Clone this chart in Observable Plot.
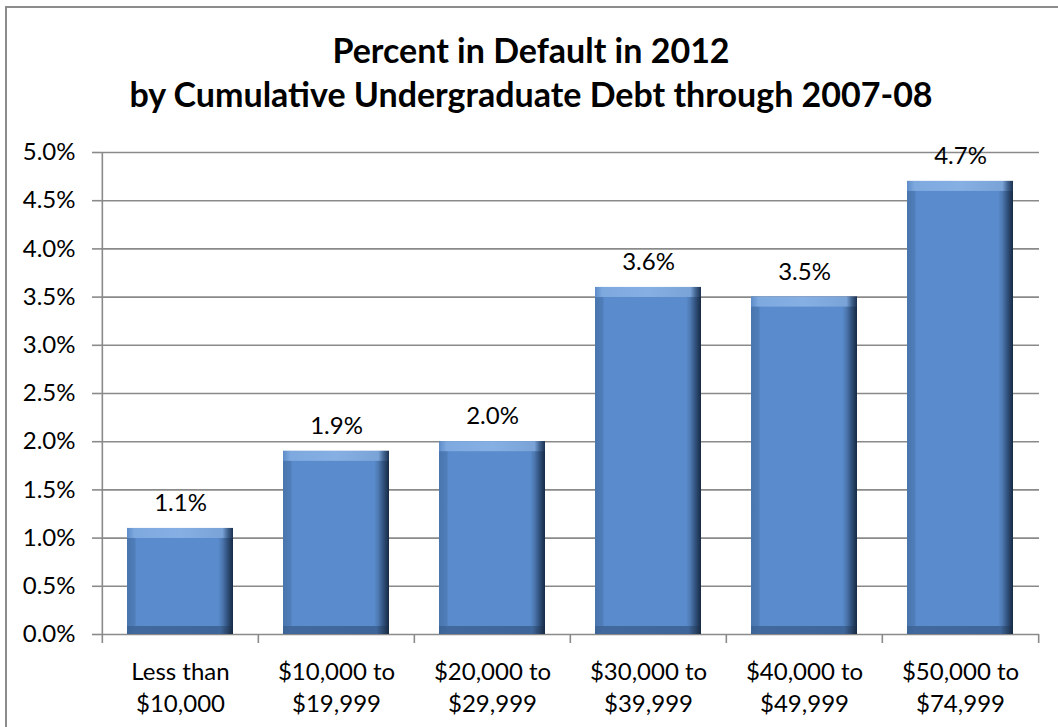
<!DOCTYPE html>
<html>
<head>
<meta charset="utf-8">
<script src="https://cdn.jsdelivr.net/npm/d3@7"></script>
<script src="https://cdn.jsdelivr.net/npm/@observablehq/plot@0.6"></script>
<style>
  html, body { margin: 0; padding: 0; background: #fff; }
  #wrap { position: relative; width: 1058px; height: 727px; overflow: hidden; font-family: Lato, "Open Sans", sans-serif; }
  #border { position: absolute; left: 5px; top: 6px; right: -10px; bottom: -10px; border-left: 2px solid #8c8c8c; border-top: 2px solid #8c8c8c; }
  #title { position: absolute; left: 0; top: 28px; width: 1062px; text-align: center; font-weight: 700; font-size: 34px; line-height: 44px; color: #000; }
  #chart { position: absolute; left: 0; top: 0; }
</style>
</head>
<body>
<div id="wrap">
  <div id="border"></div>
  <div id="chart"></div>
  <div id="title">Percent in Default in 2012<br>by Cumulative Undergraduate Debt through 2007-08</div>
</div>
<script>
const categories = ["Less than\n$10,000", "$10,000 to\n$19,999", "$20,000 to\n$29,999", "$30,000 to\n$39,999", "$40,000 to\n$49,999", "$50,000 to\n$74,999"];
const values = [1.1, 1.9, 2.0, 3.6, 3.5, 4.7];
const yTicks = [0, 0.5, 1, 1.5, 2, 2.5, 3, 3.5, 4, 4.5, 5];

const data = categories.map((c, i) => ({cat: c, v: values[i]}));

const W = 1058, H = 727, mL = 101, mR = 19, mT = 152, mB = 93;
const step = (W - mL - mR) / categories.length;
const pct = d => d.toFixed(1) + "%";
const grid = "#8a8a8a";

const chart = Plot.plot({
  width: W, height: H,
  marginTop: mT, marginBottom: mB, marginLeft: mL, marginRight: mR,
  style: {fontFamily: "Lato, 'Open Sans', sans-serif", fontSize: "24px", color: "#000", background: "transparent", overflow: "visible"},
  x: {domain: categories, paddingInner: 0.32, paddingOuter: 0.16, label: null},
  y: {domain: [0, 5], label: null},
  marks: [
    Plot.ruleY(yTicks, {stroke: grid, strokeWidth: 1.6}),
    // left axis line
    Plot.ruleX([categories[0]], {y1: () => 0, y2: () => 5, dx: -step / 2, stroke: grid, strokeWidth: 1.6}),
    // category boundary ticks
    Plot.ruleX(categories, {y1: () => 0, y2: () => 0, dx: -step / 2, insetBottom: -9, stroke: grid, strokeWidth: 1.6}),
    Plot.ruleX([categories[categories.length - 1]], {y1: () => 0, y2: () => 0, dx: step / 2, insetBottom: -9, stroke: grid, strokeWidth: 1.6}),
    // bars: body
    Plot.barY(data, {x: "cat", y: "v", fill: "url(#bevelH)"}),
    // top light bevel
    Plot.barY(data, {x: "cat", y1: "v", y2: "v", insetBottom: -10, fill: "url(#bevelTop)"}),
    // bottom dark bevel
    Plot.barY(data, {x: "cat", y1: () => 0, y2: () => 0, insetTop: -8, fill: "url(#bevelBot)"}),
    Plot.axisY({ticks: yTicks, tickSize: 9, tickPadding: 17, tickFormat: pct, stroke: grid, strokeWidth: 1.6, fontSize: 24}),
    Plot.axisX({tickSize: 0, tickPadding: 22, lineHeight: 1.36, fontSize: 24}),
    Plot.text(data, {x: "cat", y: "v", text: d => pct(d.v), dy: -25, fontSize: 24})
  ]
});

const defs = d3.create("svg:defs");
function grad(id, stops, vertical) {
  const g = defs.append("linearGradient").attr("id", id)
    .attr("x1", 0).attr("y1", 0).attr("x2", vertical ? 0 : 1).attr("y2", vertical ? 1 : 0);
  stops.forEach(([o, c]) => g.append("stop").attr("offset", o).attr("stop-color", c));
}
grad("bevelH", [[0, "#4a75ad"], [0.07, "#4f7db9"], [0.09, "#5a8bcc"], [0.86, "#5a8bcc"], [0.90, "#4d78b0"], [0.95, "#2f4f7a"], [1, "#172a42"]]);
grad("bevelTop", [[0, "#5e8cc8"], [0.07, "#7ea9df"], [0.5, "#86b0e4"], [0.9, "#7aa3d8"], [0.95, "#41638f"], [1, "#1c3150"]]);
grad("bevelBot", [[0, "#3d6496"], [0.08, "#41699d"], [0.88, "#3f669a"], [0.95, "#2a4568"], [1, "#172a42"]]);
chart.insertBefore(defs.node(), chart.firstChild);

document.getElementById("chart").appendChild(chart);
</script>
</body>
</html>
